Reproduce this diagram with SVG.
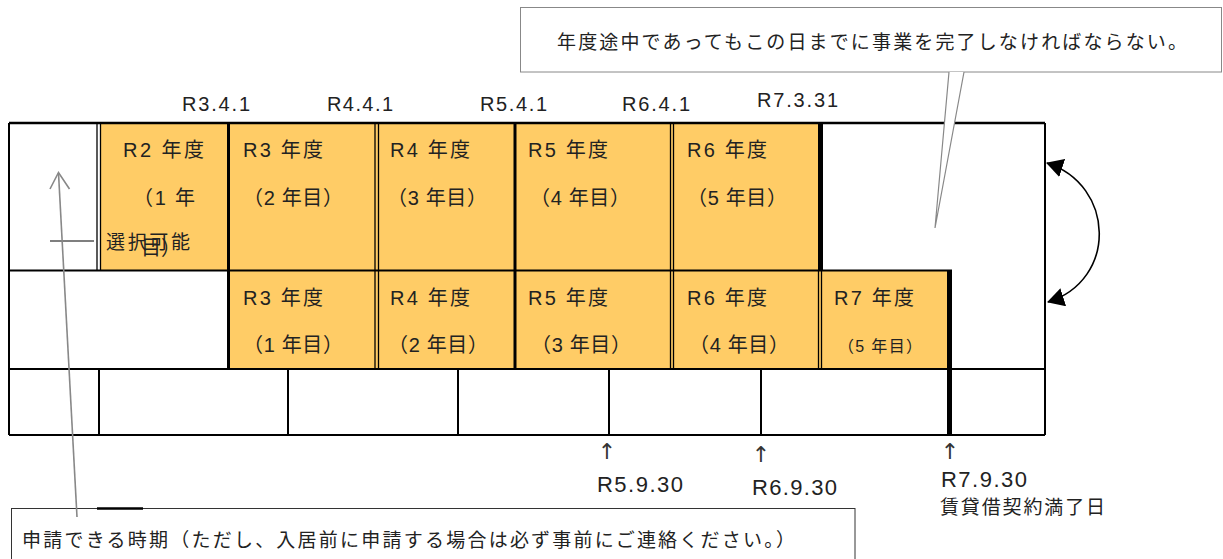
<svg xmlns="http://www.w3.org/2000/svg" width="1223" height="559" viewBox="0 0 1223 559">
<style>
.t{font-family:"Liberation Sans","Noto Sans CJK JP",sans-serif;fill:#222;font-size:20px}
.d{font-family:"Liberation Sans","Noto Sans CJK JP",sans-serif;fill:#222;font-size:20px}
.b{font-family:"Liberation Sans","Noto Sans CJK JP",sans-serif;fill:#222;font-size:22px}
.j{font-family:"Noto Sans CJK JP",sans-serif;fill:#222;font-size:19px}
.o{fill:#FFCC66}
.ln{stroke:#000;fill:none}
.a{font-family:"DejaVu Sans",sans-serif;fill:#333;font-size:22px;text-anchor:middle}
</style>
<defs>
<marker id="ah" markerUnits="userSpaceOnUse" markerWidth="17" markerHeight="19" viewBox="0 0 17 19" refX="16" refY="9.5" orient="auto-start-reverse">
<path d="M0,0 L17,9.5 L0,19 z" fill="#000"/>
</marker>
</defs>
<rect width="1223" height="559" fill="#fff"/>

<g id="table-fills">
<rect x="101" y="124" width="717" height="146" class="o"/>
<rect x="229" y="271" width="719" height="98" class="o"/>
</g>

<g id="cell-r2-1"><text class="t" x="123" y="157" textLength="81" lengthAdjust="spacing">R2 年度</text><text class="t" x="133" y="205" textLength="62" lengthAdjust="spacing">（1 年</text><text class="t" x="141" y="255">目）</text></g>
<g id="cell-r3-1"><text class="t" x="243" y="157" textLength="80" lengthAdjust="spacing">R3 年度</text><text class="t" x="243" y="205" textLength="100" lengthAdjust="spacing">（2 年目）</text></g>
<g id="cell-r4-1"><text class="t" x="390" y="157" textLength="80" lengthAdjust="spacing">R4 年度</text><text class="t" x="387" y="205" textLength="100" lengthAdjust="spacing">（3 年目）</text></g>
<g id="cell-r5-1"><text class="t" x="528" y="157" textLength="80" lengthAdjust="spacing">R5 年度</text><text class="t" x="530" y="205" textLength="100" lengthAdjust="spacing">（4 年目）</text></g>
<g id="cell-r6-1"><text class="t" x="687" y="157" textLength="80" lengthAdjust="spacing">R6 年度</text><text class="t" x="687" y="205" textLength="100" lengthAdjust="spacing">（5 年目）</text></g>

<g id="cell-r3-2"><text class="t" x="243" y="305" textLength="80" lengthAdjust="spacing">R3 年度</text><text class="t" x="243" y="352" textLength="100" lengthAdjust="spacing">（1 年目）</text></g>
<g id="cell-r4-2"><text class="t" x="390" y="305" textLength="80" lengthAdjust="spacing">R4 年度</text><text class="t" x="388" y="352" textLength="100" lengthAdjust="spacing">（2 年目）</text></g>
<g id="cell-r5-2"><text class="t" x="528" y="305" textLength="80" lengthAdjust="spacing">R5 年度</text><text class="t" x="531" y="352" textLength="100" lengthAdjust="spacing">（3 年目）</text></g>
<g id="cell-r6-2"><text class="t" x="687" y="305" textLength="80" lengthAdjust="spacing">R6 年度</text><text class="t" x="689" y="352" textLength="100" lengthAdjust="spacing">（4 年目）</text></g>
<g id="cell-r7-2"><text class="t" x="834" y="305" textLength="80" lengthAdjust="spacing">R7 年度</text><text class="t" x="838" y="352" style="font-size:16px" textLength="84" lengthAdjust="spacing">（5 年目）</text></g>

<g id="grid" class="ln">
<line x1="9" y1="123" x2="1045" y2="123" stroke-width="2.5"/>
<line x1="9" y1="270.5" x2="952" y2="270.5" stroke-width="2"/>
<line x1="9" y1="369" x2="1045" y2="369" stroke-width="2"/>
<line x1="9" y1="435" x2="1045" y2="435" stroke-width="2"/>
<line x1="9" y1="123" x2="9" y2="435" stroke-width="2"/>
<line x1="1045" y1="123" x2="1045" y2="435" stroke-width="2"/>
<line x1="97" y1="123" x2="97" y2="270" stroke-width="1.3"/>
<line x1="100.5" y1="123" x2="100.5" y2="270" stroke-width="1.3"/>
<line x1="228.5" y1="123" x2="228.5" y2="369" stroke-width="3"/>
<line x1="375" y1="123" x2="375" y2="369" stroke-width="1.3"/>
<line x1="378.5" y1="123" x2="378.5" y2="369" stroke-width="1.3"/>
<line x1="515" y1="123" x2="515" y2="369" stroke-width="3"/>
<line x1="670.5" y1="123" x2="670.5" y2="369" stroke-width="1.3"/>
<line x1="673.5" y1="123" x2="673.5" y2="369" stroke-width="1.3"/>
<line x1="820.5" y1="123" x2="820.5" y2="270" stroke-width="5"/>
<line x1="818.5" y1="270" x2="818.5" y2="369" stroke-width="1.3"/>
<line x1="821.5" y1="270" x2="821.5" y2="369" stroke-width="1.3"/>
<line x1="949.5" y1="270" x2="949.5" y2="435" stroke-width="5"/>
<line x1="99" y1="369" x2="99" y2="435" stroke-width="2"/>
<line x1="288" y1="369" x2="288" y2="435" stroke-width="2"/>
<line x1="458" y1="369" x2="458" y2="435" stroke-width="2"/>
<line x1="609" y1="369" x2="609" y2="435" stroke-width="2"/>
<line x1="761" y1="369" x2="761" y2="435" stroke-width="2"/>
</g>

<g id="top-dates">
<text class="d" x="182" y="111" textLength="68" lengthAdjust="spacing">R3.4.1</text>
<text class="d" x="327" y="111" textLength="66" lengthAdjust="spacing">R4.4.1</text>
<text class="d" x="480" y="111" textLength="67" lengthAdjust="spacing">R5.4.1</text>
<text class="d" x="622" y="111" textLength="68" lengthAdjust="spacing">R6.4.1</text>
<text class="d" x="757" y="107" textLength="81" lengthAdjust="spacing">R7.3.31</text>
</g>

<g id="bottom-dates">
<text class="a" x="607" y="459">↑</text>
<text class="a" x="761" y="462">↑</text>
<text class="a" x="950" y="459">↑</text>
<text class="b" x="597" y="492" textLength="86" lengthAdjust="spacing">R5.9.30</text>
<text class="b" x="752" y="495" textLength="85" lengthAdjust="spacing">R6.9.30</text>
<text class="b" x="941" y="487" textLength="86" lengthAdjust="spacing">R7.9.30</text>
<text class="j" x="940" y="514" textLength="165" lengthAdjust="spacing">賃貸借契約満了日</text>
</g>

<g id="select-label">
<line x1="50" y1="241" x2="94" y2="241" stroke="#000" stroke-width="1.2"/>
<text class="j" x="106" y="249" textLength="84" lengthAdjust="spacing">選択可能</text>
</g>

<g id="callout-top">
<rect x="520.5" y="7.5" width="701" height="64.5" fill="#fff" stroke="#888" stroke-width="1"/>
<path d="M949,72 L935,228 L964,72" fill="#fff" stroke="#888" stroke-width="1.2"/>
<text class="j" x="557" y="49" textLength="630" lengthAdjust="spacing">年度途中であってもこの日までに事業を完了しなければならない。</text>
</g>

<g id="callout-bottom">
<rect x="11.5" y="508.5" width="843.5" height="70" fill="#fff" stroke="#333" stroke-width="1"/>
<line x1="97" y1="508.5" x2="143" y2="508.5" stroke="#000" stroke-width="2.5"/>
<text class="j" x="22" y="547" textLength="773" lengthAdjust="spacing">申請できる時期（ただし、入居前に申請する場合は必ず事前にご連絡ください。）</text>
</g>

<g id="connectors">
<line x1="77" y1="517" x2="58.5" y2="173" stroke="#888" stroke-width="1.6"/>
<path d="M50,189 L58.5,172.5 L69.5,189" fill="none" stroke="#888" stroke-width="1.6"/>
<path d="M1047,163 C1115,185 1118,280 1048,302" fill="none" stroke="#000" stroke-width="1.6" marker-start="url(#ah)" marker-end="url(#ah)"/>
</g>
</svg>
